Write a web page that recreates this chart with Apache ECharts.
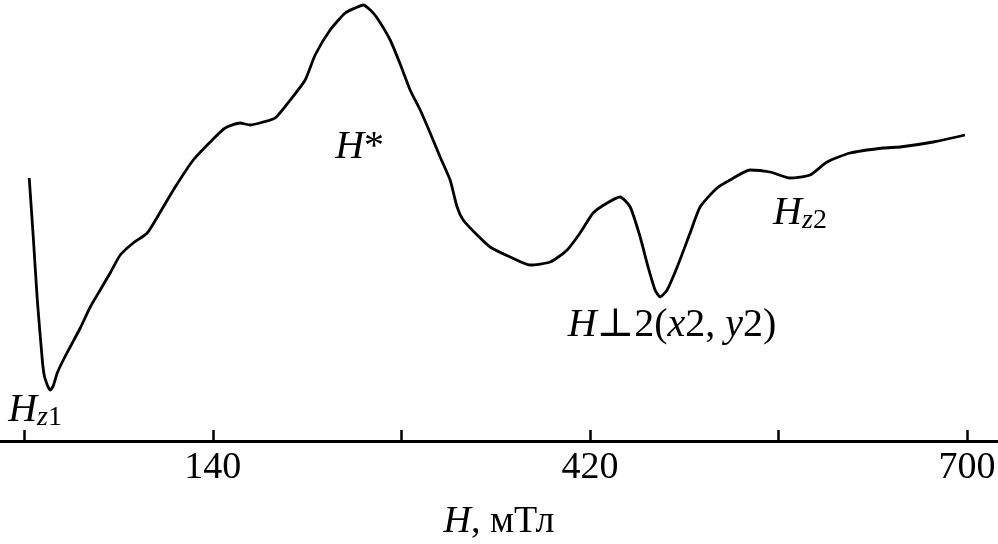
<!DOCTYPE html>
<html>
<head>
<meta charset="utf-8">
<script src="https://cdn.jsdelivr.net/npm/echarts@6/dist/echarts.min.js"></script>
<style>html,body{margin:0;padding:0;background:#fff}#c{width:998px;height:544px}</style>
</head>
<body>
<div id="c"></div>
<script>
// Field H, mT
const fieldH = [3.7,6.7,9.7,13.4,14.8,17.1,19.3,21.5,24.5,29.0,34.1,41.6,49.0,56.4,63.8,71.3,80.9,91.3,101.0,112.1,125.5,139.6,149.2,160.3,167.8,177.4,186.3,197.5,208.6,216.0,227.1,238.3,245.7,251.7,256.9,262.0,271.7,279.1,286.5,294.0,301.4,308.8,316.2,321.4,325.9,334.8,345.9,360.8,375.6,390.5,403.1,412.7,422.4,432.8,442.4,449.9,457.3,463.2,468.4,472.1,477.3,484.8,494.4,501.8,514.4,524.1,538.9,553.8,568.6,583.5,596.1,613.2,637.7,650.3,674.8,698.5];
// Signal, arbitrary units
const signal = [263,204,141,81,66,56,51,55,68,81,94,113,134,151,168,186,198,208,229,254,281,301,313,318,316,319,323,341,361,386,411,428,433,436,431,423,401,377,351,331,308,284,261,234,221,208,194,184,176,179,191,208,228,238,244,234,204,174,151,144,151,174,208,234,253,261,271,269,263,266,279,288,293,294,299,306];
const tickValues = [0,140,280,420,560,700];
const labelValues = [140,420,700];
const annotationNames = ['{i|H}{si|z}{sr|1}', '{i|H}{r|*}', '{i|H}{si|z}{sr|2}', '{i|H}{r|⊥2(}{i|x}{r|2, }{i|y}{r|2)}'];
const annotationX = [8, 249, 576, 481];
const annotationY = [31, 294, 228, 116];

const serif = '"Liberation Serif", "DejaVu Serif", serif';
const rich = {
  i: {fontFamily: serif, fontStyle: 'italic', fontSize: 40, lineHeight: 44, color: '#000'},
  r: {fontFamily: serif, fontSize: 40, lineHeight: 44, color: '#000'},
  si: {fontFamily: serif, fontStyle: 'italic', fontSize: 28, lineHeight: 22, verticalAlign: 'bottom', color: '#000'},
  sr: {fontFamily: serif, fontSize: 28, lineHeight: 22, verticalAlign: 'bottom', color: '#000'}
};

const chart = echarts.init(document.getElementById('c'));
chart.setOption({
  animation: false,
  backgroundColor: '#fff',
  grid: {left: 0, right: 0, top: 0, bottom: 103, containLabel: false, outerBoundsMode: 'none'},
  xAxis: {
    type: 'value', min: -18, max: 723,
    splitLine: {show: false},
    axisLine: {show: true, onZero: false, lineStyle: {color: '#000', width: 3}},
    axisTick: {show: true, inside: true, length: 11, customValues: tickValues, lineStyle: {color: '#000', width: 2.5}},
    axisLabel: {show: true, customValues: labelValues, margin: 8, color: '#000', fontFamily: serif, fontSize: 38},
    name: '{i|H}{r|, мТл}',
    nameLocation: 'middle', nameGap: 62,
    nameTextStyle: {rich: {i: {fontFamily: serif, fontStyle: 'italic', fontSize: 38, color: '#000'}, r: {fontFamily: serif, fontSize: 38, color: '#000'}}}
  },
  yAxis: {type: 'value', min: 0, max: 441, show: false},
  series: [
    {
      type: 'line', data: fieldH.map((h, k) => [h, signal[k]]),
      showSymbol: false, smooth: 0.2,
      lineStyle: {color: '#000', width: 2.8}
    },
    {
      type: 'scatter', symbolSize: 0, itemStyle: {color: '#000', opacity: 1},
      data: annotationNames.map((n, k) => ({name: n, value: [annotationX[k], annotationY[k]]})),
      label: {show: true, position: 'inside', color: '#000', opacity: 1, textBorderWidth: 0, formatter: p => p.name, rich: rich}
    }
  ]
});
</script>
</body>
</html>
